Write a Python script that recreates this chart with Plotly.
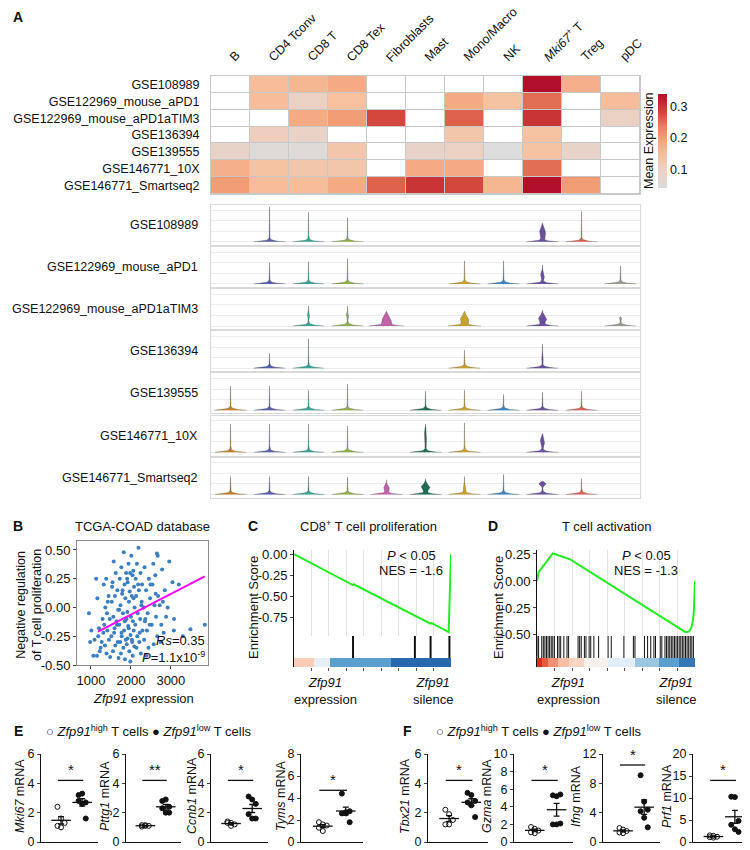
import numpy as np
import plotly.graph_objects as go

W, H = 750, 850
def X(px): return px / W
def Y(py): return 1 - py / H
FONT = "Liberation Sans, Arial, Helvetica, sans-serif"
N = None

# ---------------- Panel A data ----------------
cell_types = ["B", "CD4 Tconv", "CD8 T", "CD8 Tex", "Fibroblasts", "Mast",
              "Mono/Macro", "NK", "<i>Mki67</i><sup>+</sup> T", "Treg", "pDC"]
datasets = ["GSE108989", "GSE122969_mouse_aPD1", "GSE122969_mouse_aPD1aTIM3",
            "GSE136394", "GSE139555", "GSE146771_10X", "GSE146771_Smartseq2"]
mean_expr = [
    [N, 0.15, 0.16, 0.18, N, N, N, N, 0.34, 0.17, N],
    [N, 0.15, 0.10, 0.145, N, N, 0.18, 0.14, 0.25, N, 0.15],
    [N, N, 0.18, 0.20, 0.28, N, 0.26, N, 0.30, N, 0.10],
    [N, 0.11, 0.095, N, N, N, 0.13, N, 0.14, N, N],
    [0.09, 0.05, 0.05, 0.13, N, 0.09, 0.10, 0.04, 0.14, 0.09, N],
    [0.17, 0.14, 0.13, 0.13, N, 0.18, 0.18, N, 0.25, N, N],
    [0.20, 0.15, 0.15, 0.18, 0.26, 0.30, 0.28, 0.16, 0.34, 0.20, N],
]
violin_colors = ["#c77f27", "#5660a8", "#39a493", "#8db043", "#c262a8", "#1e6b55",
                 "#c8a12b", "#3a86c0", "#6b4f9e", "#e0604f", "#9c9c8e"]
# height of each violin (expression units)
violin_top = [
    [N, 3.3, 2.8, 2.3, N, N, N, N, 1.8, 2.9, N],
    [N, 2.0, 2.1, 2.4, N, N, 2.2, 2.2, 1.8, N, 1.7],
    [N, N, 1.9, 1.9, 1.4, N, 1.4, N, 1.5, N, 0.9],
    [N, 1.4, 2.8, N, N, N, 1.7, N, 2.3, N, N],
    [2.3, 2.3, 1.9, 2.5, N, 1.8, 1.9, 1.5, 1.7, 1.8, N],
    [2.7, 2.7, 2.7, 2.5, N, 2.7, 2.8, N, 1.8, N, N],
    [1.7, 1.7, 1.7, 1.65, 1.4, 1.5, 1.7, 1.9, 1.25, 1.5, N],
]
# density bulges: (dataset, cell type) -> (half width, centre, spread)
violin_bulge = {
    (0, 8): (0.09, 0.9, 0.55), (1, 8): (0.06, 0.8, 0.35),
    (2, 2): (0.03, 1.0, 0.2), (2, 3): (0.035, 1.0, 0.2),
    (2, 4): (0.13, 0.55, 0.55), (2, 6): (0.12, 0.65, 0.45),
    (2, 8): (0.12, 0.7, 0.4), (2, 10): (0.05, 0.75, 0.12),
    (3, 8): (0.02, 0.9, 0.25), (5, 5): (0.035, 1.6, 0.7),
    (5, 8): (0.07, 1.1, 0.45), (6, 4): (0.08, 0.6, 0.3),
    (6, 5): (0.13, 0.7, 0.35), (6, 6): (0.03, 0.6, 0.3),
    (6, 8): (0.15, 1.05, 0.22),
}

# ---------------- Panel B data ----------------
tcga_points = [
    (950, -0.05), (1010, -0.2), (980, -0.3), (1060, -0.42), (1090, -0.28),
    (1130, 0.25), (1160, 0.08), (1200, -0.18), (1180, -0.25), (1240, -0.35), (1150, -0.42),
    (1270, -0.3), (1220, -0.38), (1290, -0.1),
    (1320, 0.2), (1380, 0.25), (1440, 0.1), (1360, 0.0), (1470, -0.1), (1330, -0.15), (1410, -0.2),
    (1450, -0.28), (1350, -0.33), (1390, -0.4), (1480, -0.43), (1310, -0.22), (1420, 0.05), (1400, -0.05),
    (1570, 0.4), (1620, 0.3), (1540, 0.22), (1660, 0.15), (1600, 0.1), (1520, 0.05), (1680, -0.02),
    (1560, -0.08), (1640, -0.12), (1590, -0.18), (1510, -0.25), (1670, -0.3), (1610, -0.33),
    (1550, -0.38), (1690, -0.44), (1530, 0.18), (1650, -0.15), (1580, -0.22),
    (1820, 0.48), (1760, 0.35), (1880, 0.3), (1720, 0.25), (1840, 0.2), (1780, 0.12), (1860, 0.08),
    (1740, 0.02), (1800, -0.05), (1890, -0.1), (1710, -0.15), (1830, -0.2), (1770, -0.25),
    (1870, -0.28), (1730, -0.3), (1810, -0.35), (1750, -0.4), (1850, -0.45), (1790, 0.15),
    (1705, -0.02), (1845, -0.12), (1765, -0.22), (1895, -0.32),
    (2010, 0.45), (1940, 0.38), (2060, 0.32), (1980, 0.3), (2040, 0.28), (1920, 0.22), (2080, 0.18),
    (1970, 0.14), (2020, 0.1), (1950, 0.05), (2090, 0.0), (1910, -0.04), (2000, -0.08), (2050, -0.12),
    (1930, -0.16), (2070, -0.2), (1990, -0.24), (1915, -0.27), (2030, -0.3), (2085, -0.34),
    (1960, -0.38), (2045, -0.42), (1985, -0.47), (1905, 0.25), (2065, 0.08), (1945, -0.18), (2025, -0.28),
    (2190, 0.52), (2150, 0.38), (2240, 0.3), (2120, 0.25), (2280, 0.2), (2200, 0.15), (2130, 0.1),
    (2260, 0.02), (2170, -0.05), (2230, -0.1), (2110, -0.15), (2290, -0.2), (2160, -0.25),
    (2210, -0.3), (2140, -0.35), (2250, -0.4), (2180, 0.2), (2270, 0.05), (2220, -0.22),
    (2340, 0.35), (2450, 0.25), (2380, 0.15), (2480, 0.08), (2320, 0.0), (2420, -0.05), (2360, -0.1),
    (2470, -0.15), (2400, -0.2), (2330, -0.28), (2440, -0.35), (2390, -0.42), (2490, 0.2), (2350, -0.12),
    (2650, 0.47), (2670, 0.45), (2560, 0.38), (2610, 0.28), (2540, 0.2), (2680, 0.1), (2590, 0.02),
    (2630, -0.08), (2520, -0.15), (2660, -0.25), (2570, -0.32), (2620, 0.12),
    (2780, 0.33), (2850, 0.15), (2720, 0.02), (2880, -0.08), (2760, -0.15), (2820, -0.22),
    (2740, -0.3), (2800, 0.05),
    (2960, 0.4), (3040, 0.22), (2920, 0.0), (3080, -0.1), (3075, -0.2),
    (3200, 0.2), (3300, -0.25), (3490, -0.19), (3850, -0.15),
]
tcga_expr = [p[0] for p in tcga_points]
tcga_score = [p[1] for p in tcga_points]
fit_x = [1175, 3850]
fit_y = [-0.21, 0.27]

# ---------------- Panels C, D data ----------------
c_rank = [0, 0.375, 0.38, 0.77, 0.87, 0.875, 0.985, 0.99, 1.0]
c_es = [0, -0.37, -0.36, -0.74, -0.83, -0.82, -0.93, -0.62, 0.0]
c_hits = [0.376, 0.77, 0.87, 0.99]
c_strip_edges = [0, 0.13, 0.23, 0.62, 1.0]
c_strip_metric = [0.35, -0.08, -0.6, -0.95]

d_rank = [0, 0.004, 0.01, 0.02, 0.03, 0.045, 0.06, 0.075, 0.09, 0.1, 0.12, 0.15, 0.18, 0.21,
          0.94, 0.96, 0.975, 0.985, 0.992, 1.0]
d_es = [0, 0.06, 0.08, 0.1, 0.12, 0.15, 0.18, 0.2, 0.23, 0.255, 0.245, 0.23, 0.215, 0.2,
        -0.475, -0.47, -0.44, -0.38, -0.3, 0.0]
d_hits = [0.0, 0.01, 0.03, 0.04, 0.05, 0.06, 0.07, 0.08, 0.09, 0.10, 0.11, 0.13, 0.14, 0.15,
          0.17, 0.19, 0.2, 0.26, 0.27, 0.28, 0.3, 0.31, 0.33, 0.34, 0.36, 0.39, 0.45, 0.47,
          0.55, 0.61, 0.62, 0.68, 0.7, 0.72, 0.74, 0.75, 0.78, 0.79, 0.81, 0.82, 0.83, 0.84,
          0.85, 0.86, 0.87, 0.88, 0.89, 0.9, 0.91, 0.92, 0.93, 0.94, 0.95, 0.96, 0.97, 0.98, 0.99]
d_strip_edges = [0, 0.03, 0.07, 0.13, 0.2, 0.3, 0.45, 0.62, 0.77, 0.9, 1.0]
d_strip_metric = [1.0, 0.85, 0.65, 0.45, 0.3, 0.05, -0.1, -0.35, -0.6, -0.85]

# ---------------- Panels E, F data ----------------
e_genes = ["Mki67", "Pttg1", "Ccnb1", "Tyms"]
e_high = [[2.4, 1.6, 1.3, 1.1, 1.0], [1.15, 1.1, 1.1, 1.05, 1.15],
          [1.4, 1.3, 1.2, 1.3, 1.1], [1.8, 1.6, 1.5, 1.3, 1.0]]
e_low = [[3.2, 3.3, 2.7, 2.8, 2.6, 1.6], [2.8, 2.9, 2.4, 2.3, 2.0, 2.0],
         [3.1, 2.9, 2.6, 1.9, 1.6, 1.6], [4.4, 2.7, 2.8, 2.6, 2.6, 1.8]]
e_ymax = [6, 6, 6, 8]
e_dtick = [2, 2, 2, 2]
e_sig = [4.2, 4.2, 4.2, 4.7]
e_stars = ["*", "**", "*", "*"]

f_genes = ["Tbx21", "Gzma", "Ifng", "Prf1"]
f_high = [[2.2, 1.9, 1.5, 1.2, 1.2], [1.7, 1.5, 1.3, 1.1, 1.0],
          [1.9, 1.7, 1.5, 1.3, 1.2], [1.5, 1.4, 1.2, 1.1, 1.0]]
f_low = [[3.35, 3.2, 2.8, 2.7, 2.5, 1.7], [5.3, 5.2, 5.4, 2.0, 2.0, 2.1],
         [9.1, 5.5, 4.4, 4.2, 3.3, 2.0], [10.3, 10.2, 4.8, 3.9, 2.9, 2.3]]
f_ymax = [6, 10, 12, 20]
f_dtick = [2, 2, 4, 5]
f_sig = [4.2, 7.0, 10.5, 14.0]
f_stars = ["*", "*", "*", "*"]

# ======================================================================
fig = go.Figure()
annots = []
_count = [0]
BASE = dict(showgrid=False, zeroline=False, showline=False, ticks="", showticklabels=False,
            fixedrange=True, automargin=False)


def new_axes(xpx, ypx, xa=None, ya=None):
    _count[0] += 1
    n = _count[0]
    s = "" if n == 1 else str(n)
    xd = dict(BASE); xd.update(xa or {})
    yd = dict(BASE); yd.update(ya or {})
    xd.update(domain=[X(xpx[0]), X(xpx[1])], anchor="y" + s)
    yd.update(domain=[Y(ypx[1]), Y(ypx[0])], anchor="x" + s)
    fig.update_layout({"xaxis" + s: xd, "yaxis" + s: yd})
    return "x" + s, "y" + s


def note(px, py, text, size=12, xanchor="center", angle=0, bold=False, yanchor="middle"):
    if bold:
        text = "<b>" + text + "</b>"
    annots.append(dict(x=X(px), y=Y(py), xref="paper", yref="paper", text=text,
                       showarrow=False, xanchor=xanchor, yanchor=yanchor, textangle=angle,
                       font=dict(size=size, color="#111")))


def hyphen(v, fmt):
    return (fmt % v).replace("\u2212", "-")

# ---------------- Panel A heatmap ----------------
HX = (203, 632)
xh, yh = new_axes(HX, (68, 186),
                  xa=dict(range=[-0.5, 10.5], showline=True, mirror=True, linecolor="#c8c8c8"),
                  ya=dict(range=[6.5, -0.5], showticklabels=True, tickmode="array",
                          tickvals=list(range(7)), ticktext=datasets, ticks="outside",
                          ticklen=8, tickcolor="rgba(0,0,0,0)",
                          tickfont=dict(size=12.5, color="#111"), showline=True, mirror=True,
                          linecolor="#c8c8c8"))
for c, lab in enumerate(cell_types):
    annots.append(dict(x=c - 0.15, y=Y(59), xref=xh, yref="paper", text=lab, showarrow=False,
                       xanchor="left", yanchor="bottom", textangle=-45,
                       font=dict(size=12.5, color="#111")))
full = [[1] * len(cell_types) for _ in datasets]
fig.add_trace(go.Heatmap(z=full, x=list(range(11)), y=list(range(7)), xaxis=xh, yaxis=yh,
                         colorscale=[[0, "#c8c8c8"], [1, "#c8c8c8"]], showscale=False,
                         hoverinfo="skip"))
fig.add_trace(go.Heatmap(z=full, x=list(range(11)), y=list(range(7)), xaxis=xh, yaxis=yh,
                         colorscale=[[0, "#ffffff"], [1, "#ffffff"]], showscale=False,
                         xgap=1, ygap=1, hoverinfo="skip"))
heat_scale = [[0.0, "#dcdcdc"], [0.2, "#ead1c4"], [0.35, "#f6c09e"], [0.5, "#f4a47b"],
              [0.65, "#e8825e"], [0.8, "#d4473c"], [1.0, "#b2102a"]]
fig.add_trace(go.Heatmap(z=mean_expr, x=list(range(11)), y=list(range(7)), xaxis=xh, yaxis=yh,
                         colorscale=heat_scale, zmin=0.04, zmax=0.34, xgap=1, ygap=1,
                         hoverongaps=False,
                         colorbar=dict(x=X(650), xanchor="left", y=Y(133), yanchor="middle",
                                       len=(180 - 86) / H, lenmode="fraction", thickness=9,
                                       thicknessmode="pixels", outlinewidth=0,
                                       tickvals=[0.1, 0.2, 0.3], ticks="", xpad=0, ypad=0,
                                       tickfont=dict(size=12.5, color="#111"))))
note(641, 133, "Mean Expression", angle=-90, size=12.5)
note(10, 9, "A", size=14, bold=True)

# ---------------- Panel A violins ----------------
for d, name in enumerate(datasets):
    top_px = 197 + 42.1 * d
    xv, yv = new_axes(HX, (top_px, top_px + 40),
                      xa=dict(range=[-0.5, 10.5], showline=True, mirror=True, linecolor="#d9d9d9"),
                      ya=dict(range=[-0.3, 3.5], showgrid=True, gridcolor="#ececec",
                              tickvals=[0, 1, 2, 3], showline=True, mirror=True,
                              linecolor="#d9d9d9"))
    note(192, top_px + 20, name, xanchor="right", size=12.5)
    for c in range(len(cell_types)):
        top = violin_top[d][c]
        if top is None:
            continue
        lv = np.unique(np.concatenate([np.linspace(0, 0.5, 14), np.linspace(0.5, top, 40)]))
        hw = 0.40 * np.exp(-lv / 0.09) + 0.008 * (1 - lv / top) ** 0.4
        if (d, c) in violin_bulge:
            b, ctr, spr = violin_bulge[(d, c)]
            hw = hw + b * np.exp(-((lv - ctr) / spr) ** 2) * (1 - lv / top) ** 0.3
        xs = np.concatenate([c - hw, (c + hw)[::-1]])
        ys = np.concatenate([lv, lv[::-1]])
        fig.add_trace(go.Scatter(x=xs, y=ys, xaxis=xv, yaxis=yv, mode="lines", fill="toself",
                                 fillcolor=violin_colors[c],
                                 line=dict(color="rgba(70,70,70,0.55)", width=0.6),
                                 hoverinfo="skip"))

# ---------------- Panel B ----------------
yb_vals = [-0.5, -0.25, 0, 0.25, 0.5]
xb, yb = new_axes((69, 200), (533, 657),
                  xa=dict(range=[650, 3930], tickvals=[1000, 2000, 3000], showticklabels=True,
                          ticks="outside", ticklen=3, showline=True, mirror=True,
                          linecolor="#8a8a8a", tickfont=dict(size=13, color="#111")),
                  ya=dict(range=[-0.5, 0.578], tickvals=yb_vals,
                          ticktext=[hyphen(v, "%.2f") for v in yb_vals], showticklabels=True,
                          ticks="outside", ticklen=3, showline=True, mirror=True,
                          linecolor="#8a8a8a", tickfont=dict(size=13, color="#111")))
fig.add_trace(go.Scatter(x=tcga_expr, y=tcga_score, xaxis=xb, yaxis=yb, mode="markers",
                         marker=dict(size=4, color="#3b7fc0"), hoverinfo="skip"))
fig.add_trace(go.Scatter(x=fit_x, y=fit_y, xaxis=xb, yaxis=yb, mode="lines",
                         line=dict(color="#ff00ff", width=2), hoverinfo="skip"))
note(10, 518, "B", size=14, bold=True)
note(134, 518, "TCGA-COAD database", size=13)
note(21, 597, "Negative regulation<br>of T cell proliferation", angle=-90, size=12.5)
note(135, 690, "<i>Zfp91</i> expression", size=13)
note(199, 632, "<i>Rs</i>=0.35", xanchor="right", size=13)
note(199, 649, "<i>P</i>=1.1x10<sup>-9</sup>", xanchor="right", size=13)

# ---------------- Panels C, D ----------------
strip_scale = [[0, "#1f5fa6"], [0.2, "#5b9fcf"], [0.35, "#a9cde4"], [0.45, "#e4eef8"],
               [0.5, "#f5f5f5"], [0.6, "#fbe3d6"], [0.75, "#f8b79a"], [0.9, "#ea6a4c"],
               [1, "#d7301f"]]
grid_ticks = [k / 9 for k in range(1, 9)]


def gsea(xpx, yrng, yvals, rank, es, hits, hit_w, edges, metric, title, p_x, lab, lab_x,
         title_x):
    xe, ye = new_axes(xpx, (542, 628),
                      xa=dict(range=[0, 1], tickvals=grid_ticks, showgrid=True,
                              gridcolor="#e4e4e4"),
                      ya=dict(range=yrng, tickvals=yvals,
                              ticktext=[hyphen(v, "%.2f") for v in yvals], showticklabels=True,
                              ticks="outside", ticklen=3, showline=True, linecolor="#111",
                              tickfont=dict(size=13, color="#111")))
    fig.add_trace(go.Scatter(x=rank, y=es, xaxis=xe, yaxis=ye, mode="lines",
                             line=dict(color="#22ee22", width=2), hoverinfo="skip"))
    xh2, yh2 = new_axes(xpx, (628, 650), xa=dict(range=[0, 1]),
                        ya=dict(range=[0, 1], showline=True, linecolor="#111"))
    hx, hy = [], []
    for h in hits:
        hx += [h, h, None]
        hy += [0, 1, None]
    fig.add_trace(go.Scatter(x=hx, y=hy, xaxis=xh2, yaxis=yh2, mode="lines",
                             line=dict(color="#111", width=hit_w), hoverinfo="skip"))
    xs, ys = new_axes(xpx, (650, 659),
                      xa=dict(range=[0, 1], tickvals=grid_ticks, ticks="outside", ticklen=3,
                              tickcolor="#555"),
                      ya=dict(range=[-0.5, 0.5], showline=True, linecolor="#111"))
    fig.add_trace(go.Heatmap(z=[metric], x=edges, y=[0], xaxis=xs, yaxis=ys,
                             colorscale=strip_scale, zmin=-1, zmax=1, showscale=False,
                             hoverinfo="skip"))
    note(title_x, 518, title, size=13)
    note(p_x, 547, "<i>P</i> < 0.05", size=13)
    note(p_x, 562, "NES = " + lab, size=13)
    note(lab_x, 600, "Enrichment Score", angle=-90, size=13)
    note(xpx[0] + 31, 683, "<i>Zfp91</i><br>expression", size=13)
    note(xpx[0] + 139, 683, "<i>Zfp91</i><br>silence", size=13)


gsea((286, 443), [-0.976, 0.048], [0, -0.25, -0.5, -0.75], c_rank, c_es, c_hits, 2,
     c_strip_edges, c_strip_metric, "CD8<sup>+</sup> T cell proliferation", 403, "-1.6", 245,
     360)
gsea((529, 687), [-0.51, 0.287], [0.25, 0, -0.25, -0.5], d_rank, d_es, d_hits, 1,
     d_strip_edges, d_strip_metric, "T cell activation", 638, "-1.3", 490, 598)
note(245, 518, "C", size=14, bold=True)
note(485, 518, "D", size=14, bold=True)

# ---------------- Panels E, F ----------------
def dotplot(xpx, gene, high, low, ymax, dtick, sig, stars, title_x):
    yv = list(range(0, ymax + 1, dtick))
    xd, yd = new_axes(xpx, (746, 834),
                      xa=dict(range=[-0.95, 1.75], showline=True, linecolor="#111"),
                      ya=dict(range=[0, ymax], tickvals=yv, showticklabels=True,
                              ticks="outside", ticklen=3, showline=True, linecolor="#111",
                              tickfont=dict(size=12.5, color="#111")))
    for gi, (vals, sym) in enumerate([(high, "circle-open"), (low, "circle")]):
        vals = np.array(vals)
        off = ((np.arange(len(vals)) % 3) - 1) * 0.17
        fig.add_trace(go.Scatter(x=gi + off, y=vals, xaxis=xd, yaxis=yd, mode="markers",
                                 marker=dict(symbol=sym, size=5, color="#111",
                                             line=dict(width=1, color="#111")),
                                 hoverinfo="skip"))
        m = vals.mean()
        sem = vals.std(ddof=1) / np.sqrt(len(vals))
        fig.add_trace(go.Scatter(x=[gi], y=[m], xaxis=xd, yaxis=yd, mode="markers",
                                 marker=dict(symbol="line-ew-open", size=14, color="#111",
                                             line=dict(width=1.3, color="#111")),
                                 error_y=dict(type="data", array=[sem], width=3, thickness=1.3,
                                              color="#111"),
                                 hoverinfo="skip"))
    fig.add_trace(go.Scatter(x=[-0.15, 1.05], y=[sig, sig], xaxis=xd, yaxis=yd, mode="lines",
                             line=dict(color="#111", width=1.3), hoverinfo="skip"))
    annots.append(dict(x=0.45, y=sig, xref=xd, yref=yd, text=stars, showarrow=False,
                       yanchor="bottom", font=dict(size=15, color="#111")))
    note(title_x, 788, "<i>%s</i> mRNA" % gene, angle=-90, size=12.5)


e_pos = [(33, 90, 12), (118, 173, 97), (203, 260, 184), (293, 355, 273)]
for i in range(4):
    dotplot(e_pos[i][:2], e_genes[i], e_high[i], e_low[i], e_ymax[i], e_dtick[i], e_sig[i],
            e_stars[i], e_pos[i][2])
f_pos = [(420, 480, 397), (506, 565, 479), (595, 652, 568), (685, 743, 659)]
for i in range(4):
    dotplot(f_pos[i][:2], f_genes[i], f_high[i], f_low[i], f_ymax[i], f_dtick[i], f_sig[i],
            f_stars[i], f_pos[i][2])

note(10, 723, "E", size=14, bold=True)
note(399, 723, "F", size=14, bold=True)
for lx in (36, 426):
    note(lx, 723, "\u25cb <i>Zfp91</i><sup>high</sup> T cells", xanchor="left", size=13)
    note(lx + 106, 723, "\u25cf <i>Zfp91</i><sup>low</sup> T cells", xanchor="left", size=13)

fig.update_layout(width=W, height=H, margin=dict(l=0, r=0, t=0, b=0),
                  paper_bgcolor="white", plot_bgcolor="white", showlegend=False,
                  font=dict(family=FONT, size=12, color="#111"), annotations=annots)
fig.write_html("out.html")
